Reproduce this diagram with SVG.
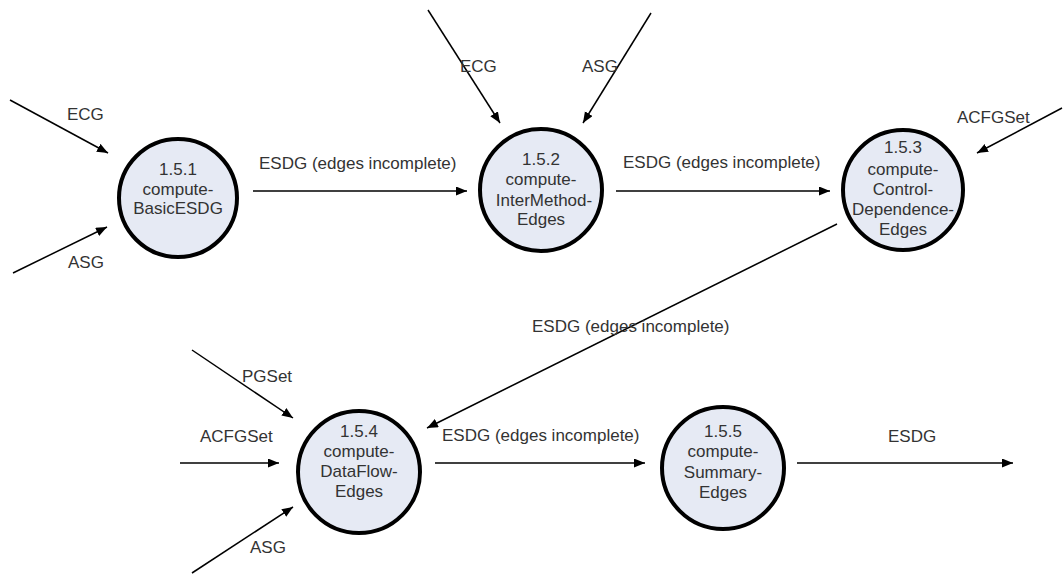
<svg xmlns="http://www.w3.org/2000/svg" width="1063" height="575" viewBox="0 0 1063 575">
  <style>
    .proc { fill: #e6eaf4; stroke: #000; stroke-width: 4; }
    .ntxt { font-family: "Liberation Sans", Arial, sans-serif; font-size: 17px; fill: #333; text-anchor: middle; }
    .flow { stroke: #000; stroke-width: 1.5; fill: none; marker-end: url(#arrow); }
    .lbl { font-family: "Liberation Sans", Arial, sans-serif; font-size: 17px; fill: #333; }
  </style>
  <defs>
    <marker id="arrow" markerUnits="userSpaceOnUse" markerWidth="12" markerHeight="10" refX="11" refY="4.5" orient="auto">
      <path d="M0,0 L11,4.5 L0,9 Z" fill="#000"/>
    </marker>
  </defs>
  <rect width="1063" height="575" fill="#fff"/>

  <!-- data flows -->
  <g id="connectors">
    <line class="flow" x1="10" y1="100" x2="108" y2="153"/>
    <text class="lbl" x="67" y="120">ECG</text>
    <line class="flow" x1="13" y1="273" x2="107" y2="227"/>
    <text class="lbl" x="68" y="268">ASG</text>

    <line class="flow" x1="253" y1="191" x2="467" y2="191"/>
    <text class="lbl" x="259" y="169">ESDG (edges incomplete)</text>

    <line class="flow" x1="428" y1="10" x2="500" y2="123"/>
    <text class="lbl" x="460" y="72">ECG</text>
    <line class="flow" x1="651" y1="13" x2="583" y2="123"/>
    <text class="lbl" x="582" y="72">ASG</text>

    <line class="flow" x1="616" y1="191" x2="830" y2="191"/>
    <text class="lbl" x="623" y="168">ESDG (edges incomplete)</text>

    <line class="flow" x1="1062" y1="108" x2="977" y2="153"/>
    <text class="lbl" x="957" y="123">ACFGSet</text>

    <line class="flow" x1="837" y1="224" x2="427" y2="428"/>
    <text class="lbl" x="532" y="332">ESDG (edges incomplete)</text>

    <line class="flow" x1="192" y1="350" x2="293" y2="418"/>
    <text class="lbl" x="242" y="382">PGSet</text>
    <line class="flow" x1="180" y1="463" x2="279" y2="463"/>
    <text class="lbl" x="200" y="442">ACFGSet</text>
    <line class="flow" x1="192" y1="573" x2="293" y2="507"/>
    <text class="lbl" x="250" y="553">ASG</text>

    <line class="flow" x1="435" y1="463" x2="645" y2="463"/>
    <text class="lbl" x="442" y="441">ESDG (edges incomplete)</text>

    <line class="flow" x1="797" y1="463" x2="1013" y2="463"/>
    <text class="lbl" x="888" y="442">ESDG</text>
  </g>

  <!-- processes -->
  <g id="p151">
    <circle class="proc" cx="178" cy="198" r="59"/>
    <text class="ntxt" x="178" y="175">1.5.1</text>
    <text class="ntxt" x="178" y="195">compute-</text>
    <text class="ntxt" x="178" y="214">BasicESDG</text>
  </g>
  <g id="p152">
    <circle class="proc" cx="541" cy="190" r="61"/>
    <text class="ntxt" x="541" y="165">1.5.2</text>
    <text class="ntxt" x="541" y="185">compute-</text>
    <text class="ntxt" x="544" y="206">InterMethod-</text>
    <text class="ntxt" x="541" y="225">Edges</text>
  </g>
  <g id="p153">
    <circle class="proc" cx="903" cy="190" r="60"/>
    <text class="ntxt" x="903" y="153">1.5.3</text>
    <text class="ntxt" x="903" y="175">compute-</text>
    <text class="ntxt" x="903" y="195">Control-</text>
    <text class="ntxt" x="903" y="215">Dependence-</text>
    <text class="ntxt" x="903" y="235">Edges</text>
  </g>
  <g id="p154">
    <circle class="proc" cx="359" cy="472" r="61"/>
    <text class="ntxt" x="359" y="437">1.5.4</text>
    <text class="ntxt" x="359" y="457">compute-</text>
    <text class="ntxt" x="359" y="477">DataFlow-</text>
    <text class="ntxt" x="359" y="497">Edges</text>
  </g>
  <g id="p155">
    <circle class="proc" cx="723" cy="468" r="61"/>
    <text class="ntxt" x="723" y="437">1.5.5</text>
    <text class="ntxt" x="723" y="457">compute-</text>
    <text class="ntxt" x="723" y="478">Summary-</text>
    <text class="ntxt" x="723" y="498">Edges</text>
  </g>
</svg>
